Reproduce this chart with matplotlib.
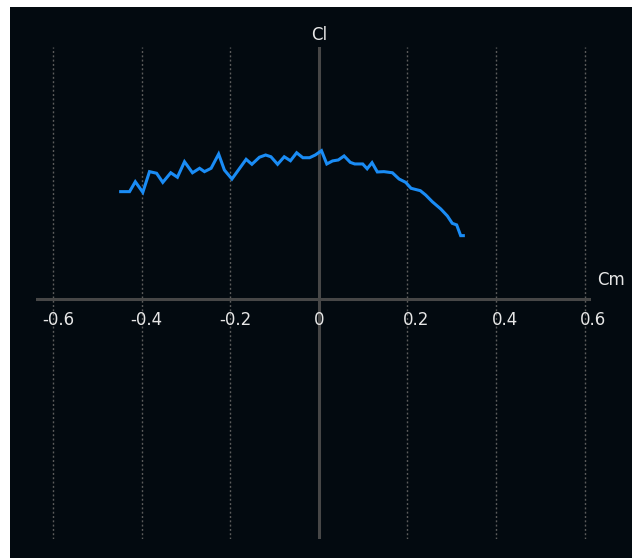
import matplotlib
matplotlib.use("Agg")
import matplotlib.pyplot as plt
from matplotlib.patches import Rectangle
from matplotlib.transforms import offset_copy

# Data
cm = [-0.447, -0.427, -0.414, -0.404, -0.397, -0.382, -0.366, -0.352, -0.334, -0.319,
      -0.303, -0.285, -0.269, -0.258, -0.243, -0.226, -0.213, -0.196, -0.164, -0.151,
      -0.134, -0.120, -0.108, -0.093, -0.078, -0.064, -0.050, -0.036, -0.021, -0.008,
      0.006, 0.018, 0.031, 0.044, 0.057, 0.071, 0.081, 0.099, 0.109, 0.120,
      0.132, 0.147, 0.166, 0.181, 0.196, 0.208, 0.229, 0.241, 0.256, 0.275,
      0.290, 0.301, 0.311, 0.320, 0.326]
cl = [0.671, 0.671, 0.733, 0.694, 0.667, 0.796, 0.786, 0.729, 0.789, 0.761,
      0.858, 0.789, 0.817, 0.796, 0.817, 0.906, 0.806, 0.750, 0.873, 0.842,
      0.886, 0.900, 0.889, 0.842, 0.889, 0.864, 0.914, 0.883, 0.883, 0.900,
      0.927, 0.844, 0.863, 0.869, 0.894, 0.854, 0.844, 0.844, 0.814, 0.852,
      0.794, 0.796, 0.789, 0.750, 0.729, 0.692, 0.677, 0.650, 0.608, 0.563,
      0.519, 0.473, 0.463, 0.396, 0.396]
xticks = [-0.6, -0.4, -0.2, 0.0, 0.2, 0.4, 0.6]
xtick_labels = ["-0.6", "-0.4", "-0.2", "0", "0.2", "0.4", "0.6"]

W, H = 633, 558
fig = plt.figure(figsize=(W / 100, H / 100), dpi=100)
fig.patch.set_facecolor("white")

bg = "#030a10"
bgax = fig.add_axes([10 / W, 0, 622 / W, (H - 7) / H], zorder=-5)
bgax.set_facecolor(bg)
bgax.set_xticks([])
bgax.set_yticks([])
for s in bgax.spines.values():
    s.set_visible(False)

# axes box in pixels: x 36..591, y 47..539
left, right, top, bottom = 36, 591, 47, 539
ax = fig.add_axes([left / W, (H - bottom) / H, (right - left) / W, (bottom - top) / H], zorder=1)
ax.set_facecolor("none")
ax.set_xlim(-0.638, 0.614)
ax.set_ylim(-1.5, 1.575)
for s in ax.spines.values():
    s.set_visible(False)
ax.set_xticks([])
ax.set_yticks([])

for t in xticks:
    ax.axvline(t, color="#5c5c5c", lw=1.0, linestyle=(0, (1.4, 1.7)), zorder=1)

ax.axhline(0, color="#474747", lw=2.2, zorder=2)
ax.axvline(0, color="#474747", lw=2.2, zorder=2)

ax.plot(cm, cl, color="#1a8cf5", lw=2.2, zorder=3, solid_joinstyle="miter")

txtc = "#e6e6e6"
for t, lab in zip(xticks, xtick_labels):
    if lab == "0":
        ax.text(t, 0, lab, ha="center", va="center", color=txtc, fontsize=12,
                transform=offset_copy(ax.transData, fig=fig, x=0, y=-21 * 0.72, units="points"))
    else:
        dx = -11 if t < 0 else -4.5
        ax.text(t, 0, lab, ha="left", va="center", color=txtc, fontsize=12,
                transform=offset_copy(ax.transData, fig=fig, x=dx * 0.72, y=-21 * 0.72, units="points"))

fig.text(319.5 / W, (H - 35) / H, "Cl", ha="center", va="center", color=txtc, fontsize=12)
fig.text(611.5 / W, (H - 280) / H, "Cm", ha="center", va="center", color=txtc, fontsize=12)

fig.savefig("out.png", dpi=100, facecolor=fig.get_facecolor())
